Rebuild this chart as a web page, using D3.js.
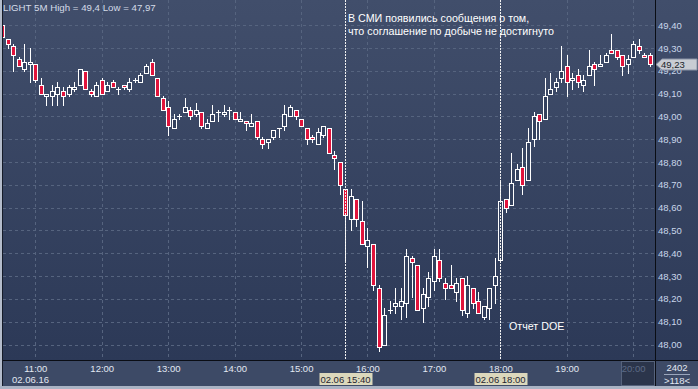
<!DOCTYPE html>
<html>
<head>
<meta charset="utf-8">
<script src="https://cdn.jsdelivr.net/npm/d3@7"></script>
<style>
body { margin: 0; background: #2f3c59; }
svg { display: block; }
text { font-family: "Liberation Sans", Arial, sans-serif; }
</style>
</head>
<body>
<svg width="698" height="389"></svg>
<script>
// LIGHT 5M, 02.06.16, candles every 5 minutes from 10:30
var startTime = new Date(2016, 5, 2, 10, 30);
var stepMinutes = 5;

var open = [49.40, 49.34, 49.31, 49.25, 49.21, 49.23, 49.23, 49.14, 49.09, 49.09,
    49.10, 49.11, 49.10, 49.12, 49.14, 49.20, 49.11, 49.09, 49.16, 49.11,
    49.15, 49.12, 49.14, 49.12, 49.16, 49.15, 49.19, 49.24, 49.17, 49.08,
    49.04, 48.95, 49.00, 49.02, 49.03, 49.01, 49.02, 48.95, 48.98, 49.02,
    49.01, 49.03, 49.02, 48.98, 48.98, 48.96, 48.98, 48.90, 48.89, 48.91,
    48.95, 48.96, 49.00, 49.03, 48.99, 48.95, 48.91, 48.88, 48.92, 48.95,
    48.83, 48.80, 48.68, 48.55, 48.64, 48.54, 48.43, 48.44, 48.25, 48.00,
    48.15, 48.17, 48.17, 48.18, 48.38, 48.35, 48.16, 48.21, 48.28, 48.37,
    48.27, 48.26, 48.23, 48.29, 48.14, 48.25, 48.19, 48.12, 48.16, 48.26,
    48.37, 48.64, 48.61, 48.72, 48.78, 48.72, 48.90, 49.01, 48.99, 49.10,
    49.13, 49.17, 49.22, 49.16, 49.18, 49.14, 49.18, 49.23, 49.22, 49.24,
    49.29, 49.29, 49.27, 49.23, 49.26, 49.31, 49.27, 49.27];
var high = [49.40, 49.34, 49.32, 49.26, 49.32, 49.30, 49.23, 49.17, 49.10, 49.14,
    49.15, 49.13, 49.14, 49.15, 49.21, 49.20, 49.12, 49.15, 49.17, 49.15,
    49.16, 49.13, 49.14, 49.17, 49.17, 49.19, 49.23, 49.25, 49.17, 49.09,
    49.07, 49.01, 49.01, 49.08, 49.04, 49.06, 49.02, 48.99, 49.05, 49.03,
    49.05, 49.04, 49.02, 49.02, 48.98, 49.01, 48.98, 48.91, 48.90, 48.94,
    48.95, 49.05, 49.05, 49.03, 48.99, 48.95, 48.92, 48.95, 48.96, 48.95,
    48.85, 48.80, 48.68, 48.68, 48.64, 48.63, 48.51, 48.44, 48.26, 48.16,
    48.19, 48.25, 48.25, 48.42, 48.39, 48.35, 48.25, 48.32, 48.42, 48.42,
    48.29, 48.35, 48.29, 48.29, 48.30, 48.25, 48.23, 48.17, 48.25, 48.38,
    48.72, 48.64, 48.84, 48.79, 48.86, 48.95, 49.02, 49.01, 49.17, 49.19,
    49.17, 49.31, 49.27, 49.19, 49.21, 49.18, 49.29, 49.24, 49.27, 49.28,
    49.36, 49.29, 49.27, 49.27, 49.33, 49.34, 49.28, 49.28];
var low = [49.35, 49.30, 49.20, 49.22, 49.20, 49.15, 49.15, 49.10, 49.05, 49.05,
    49.05, 49.05, 49.09, 49.11, 49.14, 49.12, 49.09, 49.09, 49.10, 49.11,
    49.13, 49.10, 49.12, 49.11, 49.15, 49.15, 49.19, 49.18, 49.09, 49.03,
    48.92, 48.95, 48.99, 49.02, 48.99, 49.00, 48.95, 48.95, 48.98, 48.98,
    49.00, 48.99, 48.99, 48.98, 48.94, 48.96, 48.90, 48.86, 48.86, 48.90,
    48.91, 48.94, 49.00, 48.99, 48.96, 48.88, 48.89, 48.88, 48.91, 48.84,
    48.77, 48.66, 48.37, 48.50, 48.52, 48.44, 48.34, 48.24, 47.97, 48.00,
    48.14, 48.14, 48.11, 48.12, 48.21, 48.15, 48.10, 48.17, 48.24, 48.28,
    48.20, 48.25, 48.19, 48.13, 48.12, 48.16, 48.14, 48.11, 48.11, 48.18,
    48.37, 48.58, 48.61, 48.72, 48.66, 48.72, 48.87, 48.90, 48.99, 49.10,
    49.11, 49.15, 49.09, 49.12, 49.13, 49.11, 49.18, 49.14, 49.22, 49.24,
    49.28, 49.25, 49.18, 49.19, 49.26, 49.28, 49.26, 49.22];
var close = [49.35, 49.32, 49.27, 49.22, 49.24, 49.24, 49.16, 49.10, 49.10, 49.11,
    49.13, 49.09, 49.13, 49.13, 49.21, 49.12, 49.10, 49.14, 49.10, 49.14,
    49.13, 49.12, 49.13, 49.15, 49.16, 49.18, 49.22, 49.18, 49.09, 49.03,
    48.96, 48.99, 49.00, 49.04, 49.00, 49.03, 48.96, 48.97, 49.01, 49.02,
    49.02, 49.03, 48.99, 48.99, 48.97, 48.97, 48.91, 48.88, 48.90, 48.94,
    48.95, 49.01, 49.04, 49.00, 48.96, 48.90, 48.90, 48.93, 48.96, 48.84,
    48.82, 48.70, 48.57, 48.65, 48.55, 48.44, 48.46, 48.26, 47.99, 48.13,
    48.15, 48.18, 48.19, 48.39, 48.36, 48.15, 48.22, 48.29, 48.39, 48.29,
    48.25, 48.25, 48.27, 48.15, 48.26, 48.18, 48.14, 48.17, 48.25, 48.30,
    48.63, 48.60, 48.71, 48.77, 48.70, 48.89, 49.00, 48.98, 49.09, 49.12,
    49.15, 49.20, 49.15, 49.17, 49.15, 49.16, 49.22, 49.21, 49.23, 49.27,
    49.28, 49.26, 49.22, 49.25, 49.32, 49.29, 49.26, 49.23];

var priceTicks = [48.0, 48.1, 48.2, 48.3, 48.4, 48.5, 48.6, 48.7, 48.8, 48.9, 49.0, 49.1, 49.2, 49.3, 49.4];
var hourTicks = [11, 12, 13, 14, 15, 16, 17, 18, 19, 20];
var eventTimes = ["15:40", "18:00"];
var eventLabels = ["02.06 15:40", "02.06 18:00"];
var titleText = "LIGHT 5M High = 49,4 Low = 47,97";
var noteLines = ["В СМИ появились сообщения о том,", "что соглашение по добыче не достигнуто"];
var doeText = "Отчет DOE";
var lastPrice = 49.23;

var svg = d3.select("svg"),
    width = +svg.attr("width"),
    height = +svg.attr("height");

var plotRight = 655, plotBottom = 360;

var times = open.map(function (d, i) { return d3.timeMinute.offset(startTime, i * stepMinutes); });
function atTime(s) {
    var p = s.split(":");
    return new Date(2016, 5, 2, +p[0], +p[1]);
}

var x = d3.scaleTime()
    .domain([startTime, times[times.length - 1]])
    .range([2.1, 649.8]);
var y = d3.scaleLinear()
    .domain([48, 49.4])
    .range([344.5, 25.3]);

// background
var defs = svg.append("defs");
var grad = defs.append("linearGradient").attr("id", "bg").attr("x1", 0).attr("y1", 0).attr("x2", 0).attr("y2", 1);
grad.append("stop").attr("offset", "0%").attr("stop-color", "#414e6b");
grad.append("stop").attr("offset", "100%").attr("stop-color", "#2c3957");
defs.append("clipPath").attr("id", "plotclip")
    .append("rect").attr("x", 3).attr("y", 0).attr("width", plotRight - 3).attr("height", plotBottom);

svg.append("rect").attr("width", width).attr("height", plotBottom).attr("fill", "url(#bg)");
svg.append("rect").attr("y", plotBottom).attr("width", width).attr("height", height - plotBottom).attr("fill", "#3d4a66");

// grid
var grid = svg.append("g").attr("clip-path", "url(#plotclip)")
    .attr("stroke", "#56647f").attr("stroke-dasharray", "3,3").attr("stroke-width", 1);
grid.selectAll(".hg").data(priceTicks).enter().append("line")
    .attr("x1", 3).attr("x2", plotRight)
    .attr("y1", function (d) { return Math.round(y(d)) + 0.5; })
    .attr("y2", function (d) { return Math.round(y(d)) + 0.5; });
grid.selectAll(".vg").data(hourTicks).enter().append("line")
    .attr("y1", 0).attr("y2", plotBottom)
    .attr("x1", function (d) { return Math.round(x(new Date(2016, 5, 2, d))) + 0.5; })
    .attr("x2", function (d) { return Math.round(x(new Date(2016, 5, 2, d))) + 0.5; });

// candles
var candles = svg.append("g").attr("clip-path", "url(#plotclip)");
var c = candles.selectAll(".candle").data(times).enter().append("g");
c.append("line")
    .attr("stroke", "#fff")
    .attr("x1", function (d) { return Math.round(x(d)) + 0.5; })
    .attr("x2", function (d) { return Math.round(x(d)) + 0.5; })
    .attr("y1", function (d, i) { return Math.round(y(high[i])); })
    .attr("y2", function (d, i) { return Math.round(y(low[i])) + 1; });
c.each(function (d, i) {
    var g = d3.select(this);
    var cx = Math.round(x(d)) + 0.5;
    var top = Math.round(y(Math.max(open[i], close[i]))) + 0.5;
    var bot = Math.round(y(Math.min(open[i], close[i]))) + 0.5;
    if (bot - top < 1) {
        g.append("line").attr("stroke", "#fff")
            .attr("x1", cx - 2.5).attr("x2", cx + 2.5).attr("y1", top).attr("y2", top);
    } else {
        g.append("rect")
            .attr("x", cx - 2).attr("y", top)
            .attr("width", 4).attr("height", bot - top)
            .attr("fill", close[i] < open[i] ? "#e0143c" : "#34415e")
            .attr("stroke", "#fff").attr("stroke-width", 1);
    }
});

// event lines
svg.append("g").selectAll("line").data(eventTimes).enter().append("line")
    .attr("stroke", "#f0f0f0").attr("stroke-dasharray", "2,1")
    .attr("x1", function (d) { return Math.round(x(atTime(d))) + 0.5; })
    .attr("x2", function (d) { return Math.round(x(atTime(d))) + 0.5; })
    .attr("y1", 0).attr("y2", plotBottom);

// texts
svg.append("text").attr("x", 3).attr("y", 11).attr("fill", "#d4dbe8")
    .style("font-size", "9.7px").text(titleText);
svg.append("g").selectAll("text").data(noteLines).enter().append("text")
    .attr("x", 348).attr("y", function (d, i) { return 21.5 + i * 13.5; })
    .attr("fill", "#fff").style("font-size", "10.7px").text(function (d) { return d; });
svg.append("text").attr("x", 509).attr("y", 330).attr("fill", "#fff")
    .style("font-size", "10.7px").text(doeText);

// y axis
var yAxis = d3.axisRight(y).tickValues(priceTicks).tickSize(0).tickPadding(3)
    .tickFormat(function (d) { return d.toFixed(2).replace(".", ","); });
var ya = svg.append("g").attr("transform", "translate(" + plotRight + ",0)").call(yAxis);
ya.select(".domain").remove();
ya.selectAll("text").attr("fill", "#c9d6ea").style("font-size", "9.5px")
    .style("font-family", "'Liberation Sans', Arial, sans-serif");

// x axis
var xAxis = d3.axisBottom(x)
    .tickValues(hourTicks.map(function (h) { return new Date(2016, 5, 2, h); }))
    .tickSize(0).tickPadding(5).tickFormat(d3.timeFormat("%H:%M"));

// dark box for 20:00
svg.append("rect").attr("x", 621.5).attr("y", plotBottom + 1.5).attr("width", 33).attr("height", 24)
    .attr("fill", "#2b354b").attr("stroke", "#56637c");

var xa = svg.append("g").attr("transform", "translate(0," + plotBottom + ")").call(xAxis);
xa.select(".domain").remove();
xa.selectAll("text").attr("fill", "#e2e8f2").style("font-size", "9.5px")
    .style("font-family", "'Liberation Sans', Arial, sans-serif");
xa.selectAll(".tick").filter(function (d) { return d.getHours() === 20; })
    .select("text").attr("fill", "#5d6b86");
svg.append("text").attr("x", 12).attr("y", 382.5).attr("fill", "#e2e8f2")
    .style("font-size", "9.5px").text("02.06.16");

// event labels
var ev = svg.append("g").selectAll("g").data(eventTimes).enter().append("g")
    .attr("transform", function (d) { return "translate(" + (Math.round(x(atTime(d))) + 0.5) + ",0)"; });
ev.append("rect").attr("x", -26).attr("y", 373).attr("width", 53).attr("height", 12)
    .attr("fill", "#dcd8bc");
ev.append("text").attr("x", 0).attr("y", 382.5).attr("text-anchor", "middle")
    .attr("fill", "#1e2430").style("font-size", "9.5px")
    .text(function (d, i) { return eventLabels[i]; });

// last price tag
var ly = Math.round(y(lastPrice)) + 0.5;
svg.append("path")
    .attr("d", "M656," + ly + "L662," + (ly - 5.5) + "H697V" + (ly + 5.5) + "H662Z")
    .attr("fill", "#c8ccd3").attr("stroke", "#8a93a6");
svg.append("text").attr("x", 661).attr("y", ly + 3.5).attr("fill", "#1a1f2a")
    .style("font-size", "9.5px").text(lastPrice.toFixed(2).replace(".", ","));

// corner box
svg.append("text").attr("x", 677).attr("y", 371).attr("text-anchor", "middle")
    .attr("fill", "#e2e8f2").style("font-size", "9.5px").text("2402");
svg.append("line").attr("x1", 664).attr("x2", 690).attr("y1", 374.5).attr("y2", 374.5)
    .attr("stroke", "#9aa6bc");
svg.append("text").attr("x", 677).attr("y", 384).attr("text-anchor", "middle")
    .attr("fill", "#e2e8f2").style("font-size", "9.5px").text(">" + times.length + "<");

// frame
svg.append("line").attr("x1", 0).attr("x2", width).attr("y1", plotBottom + 0.5).attr("y2", plotBottom + 0.5)
    .attr("stroke", "#0a0d14");
svg.append("line").attr("x1", plotRight + 0.5).attr("x2", plotRight + 0.5).attr("y1", 0).attr("y2", 386)
    .attr("stroke", "#0a0d14");
svg.append("rect").attr("x", 0).attr("y", 0).attr("width", 2).attr("height", height).attr("fill", "#b4bccb");
svg.append("rect").attr("x", 2).attr("y", 0).attr("width", 1).attr("height", 386).attr("fill", "#151b28");
svg.append("rect").attr("x", 0).attr("y", 386).attr("width", width).attr("height", 3).attr("fill", "#aab3c4");
</script>
</body>
</html>
